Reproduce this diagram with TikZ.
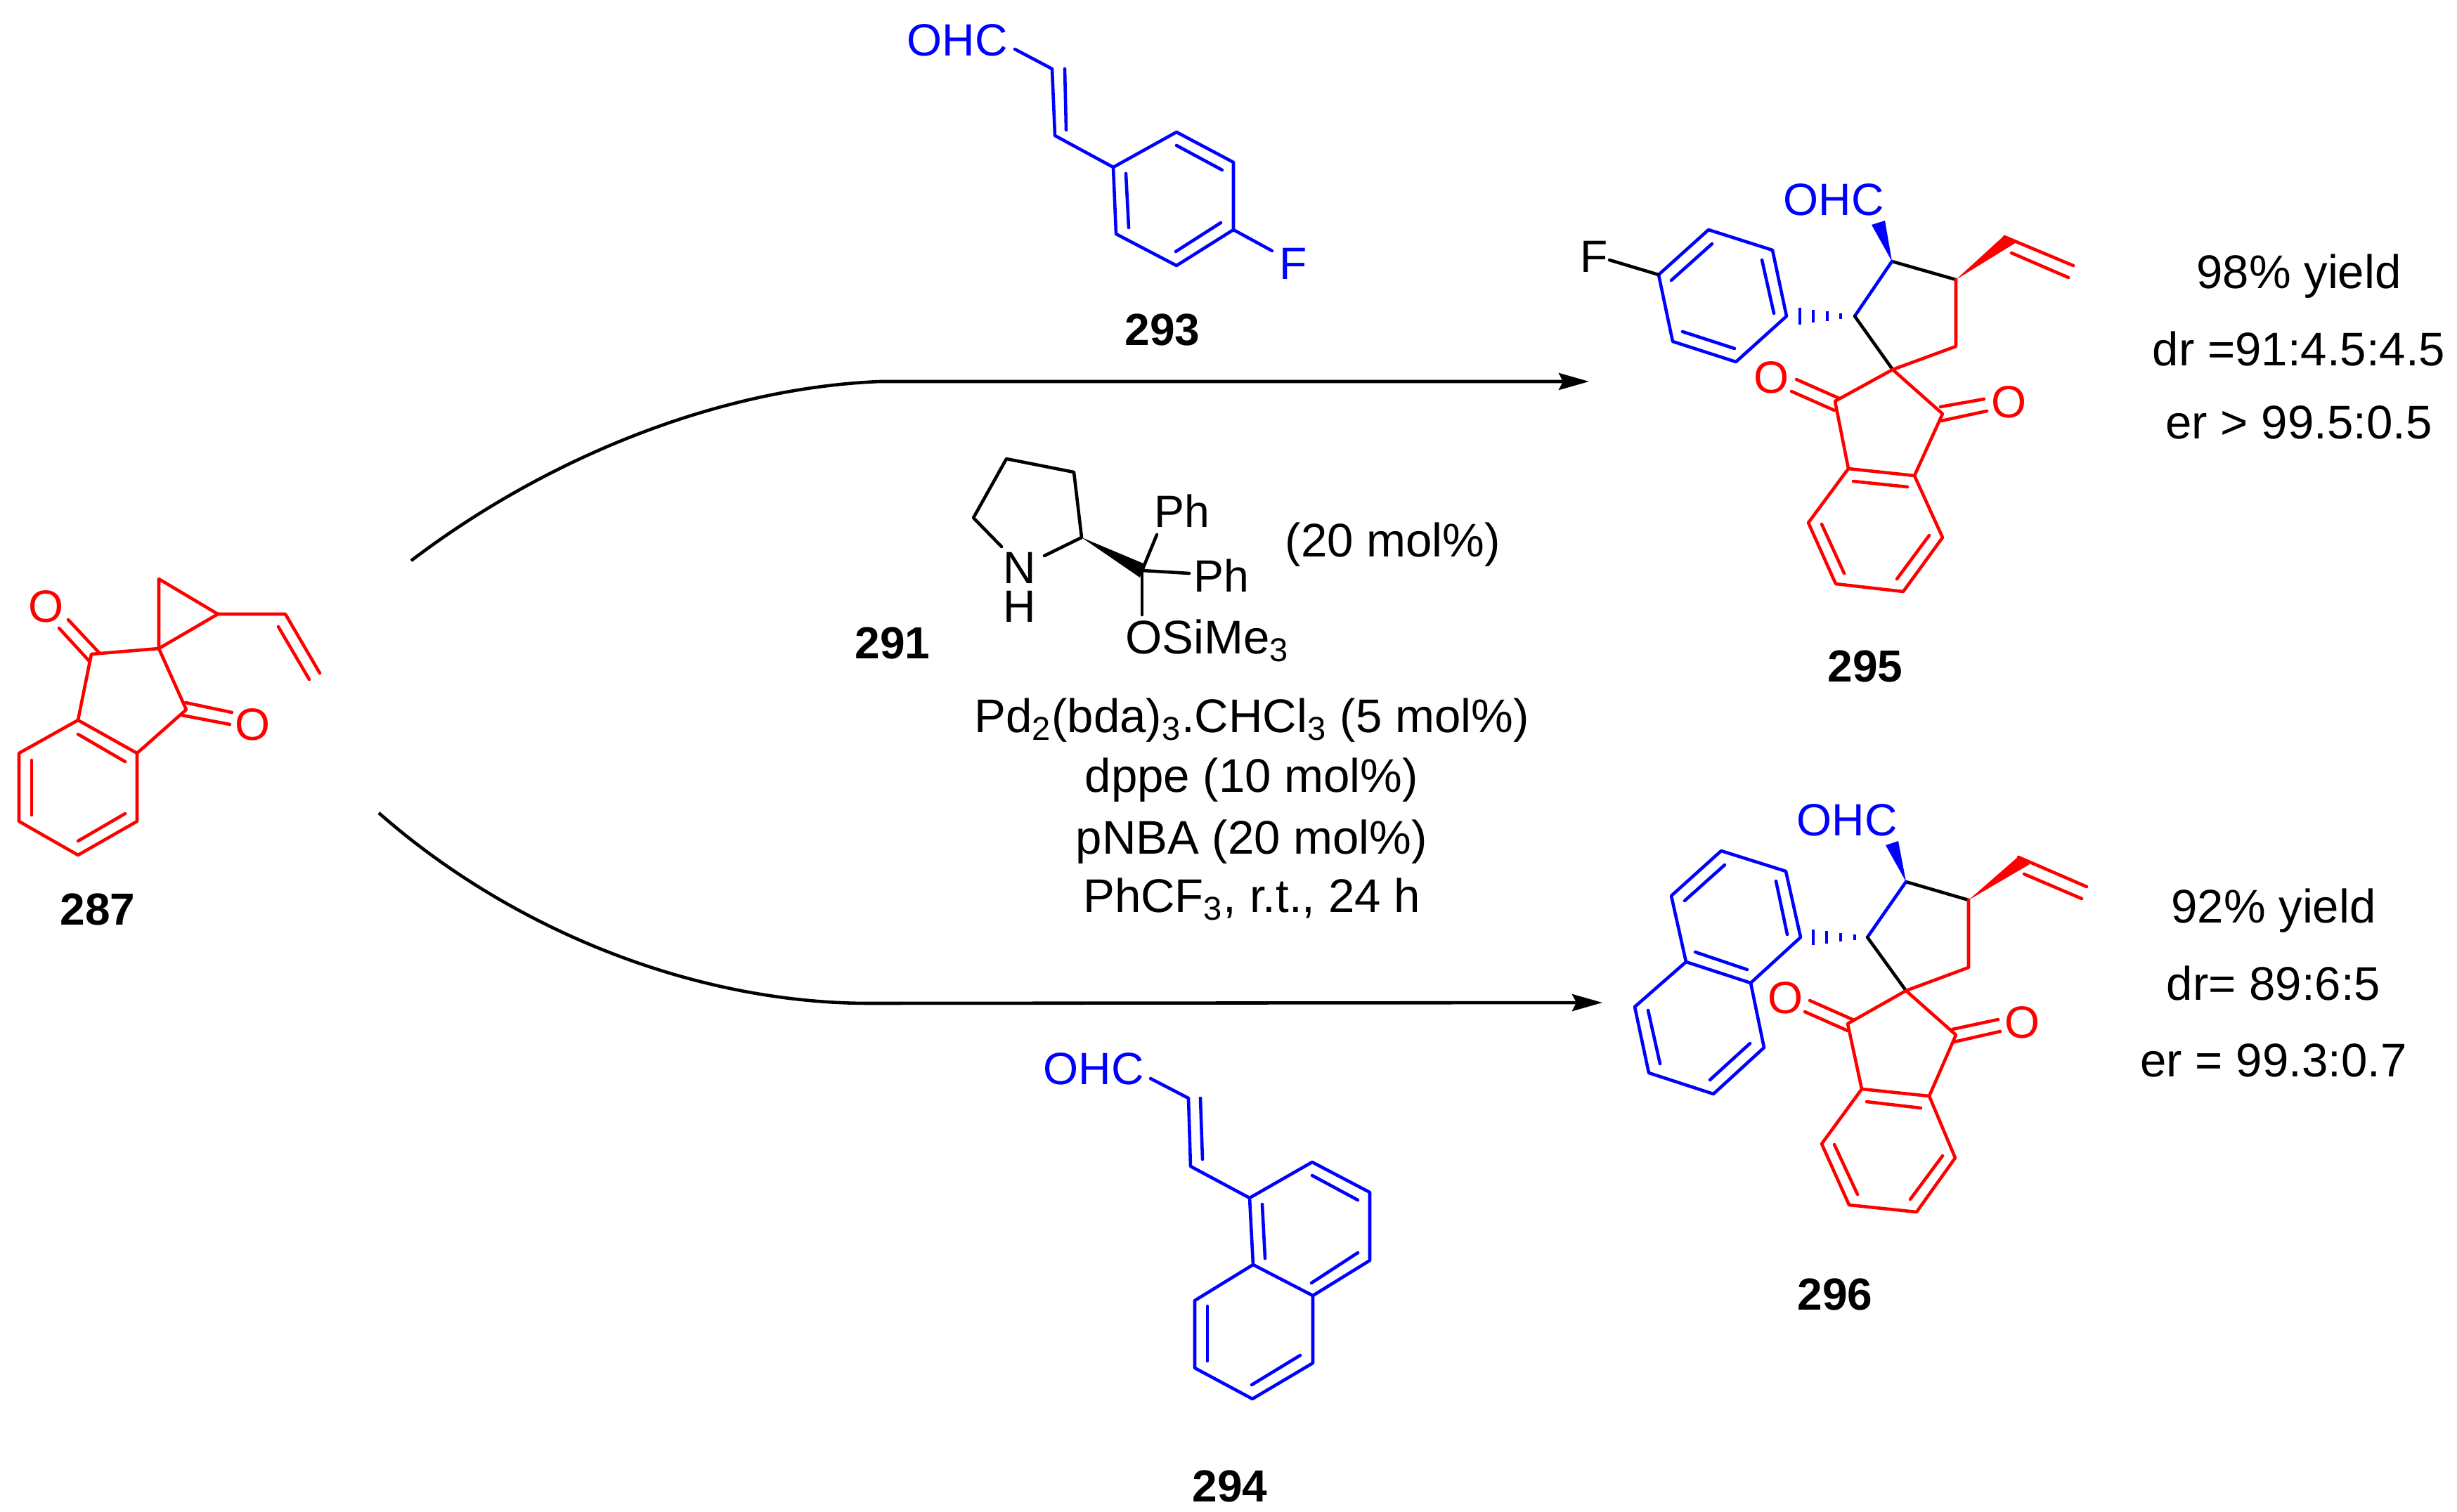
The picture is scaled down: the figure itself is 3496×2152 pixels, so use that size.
\documentclass[tikz,border=0pt]{standalone}
\usepackage{fontspec}
\setmainfont{Liberation Sans}
\usetikzlibrary{arrows.meta}
\tikzset{
	bond/.style={line width=1.3pt, line cap=round, line join=round},
	redbond/.style={bond, color=red},
	bluebond/.style={bond, color=blue},
	blackbond/.style={bond, color=black},
	chem/.style={inner sep=0pt, font=\fontsize{18.3}{22}\selectfont},
	redatom/.style={chem, color=red},
	blueatom/.style={chem, color=blue},
	cond/.style={inner sep=0pt, font=\fontsize{19.1}{23}\selectfont},
	tag/.style={inner sep=0pt, font=\fontsize{18.2}{22}\selectfont\bfseries},
	reaction/.style={line width=1.3pt, -{Stealth[length=4.3mm, width=2.4mm, inset=0.6mm]}}
}
\begin{document}
\begin{tikzpicture}[x=0.01cm, y=-0.01cm]
	%%%%% START %%%%%
	\useasboundingbox (0, 0) rectangle (3496, 2152);

	% curved arrows
	\coordinate (topstart) at (585, 798);
	\coordinate (topbend) at (1252, 543);
	\coordinate (toptip) at (2261, 543);
	\coordinate (lowstart) at (539, 1157);
	\coordinate (lowbend) at (1237, 1428);
	\coordinate (lowtip) at (2280, 1427);
	\draw[reaction] (topstart) .. controls (785, 646) and (1030, 552) .. (topbend) -- (toptip);
	\draw[reaction] (lowstart) .. controls (730, 1325) and (990, 1428) .. (lowbend) -- (lowtip);

	% 287
	\draw[redbond] (226, 824) -- (310, 874) -- (226, 923) -- cycle;
	\draw[redbond] (310, 874) -- (406, 874) -- (455, 958);
	\draw[redbond] (396, 892) -- (440, 967);
	\draw[redbond] (226, 923) -- (130, 931) -- (111, 1025);
	\draw[redbond] (226, 923) -- (265, 1010) -- (195, 1072);
	\draw[redbond] (97, 882) -- (142, 930);
	\draw[redbond] (84, 894) -- (128, 942);
	\draw[redbond] (264, 1000) -- (330, 1014);
	\draw[redbond] (259, 1018) -- (327, 1031);
	\draw[redbond] (111, 1025) -- (195, 1072) -- (195, 1169) -- (111, 1217) -- (27, 1169) -- (27, 1072) -- cycle;
	\draw[redbond] (111, 1045) -- (178, 1084);
	\draw[redbond] (45, 1082) -- (45, 1160);
	\draw[redbond] (111, 1197) -- (178, 1158);
	\node[redatom] (oxa) at (66, 863) {O};
	\node[redatom] (oxb) at (360, 1031) {O};
	\node[tag] (cpd287) at (139, 1294) {287};

	% 293
	\node[blueatom] (ohcaldf) at (1362, 57) {OHC};
	\draw[bluebond] (1444, 70) -- (1497, 98) -- (1501, 193) -- (1584, 238);
	\draw[bluebond] (1515, 98) -- (1517, 185);
	\draw[bluebond] (1584, 238) -- (1674, 188) -- (1755, 231) -- (1755, 327) -- (1674, 378) -- (1588, 333) -- cycle;
	\draw[bluebond] (1674, 207) -- (1739, 242);
	\draw[bluebond] (1602, 247) -- (1606, 324);
	\draw[bluebond] (1673, 358) -- (1737, 317);
	\draw[bluebond] (1755, 327) -- (1810, 357);
	\node[blueatom] (fluoald) at (1840, 375) {F};
	\node[tag] (cpd293) at (1654, 470) {293};

	% 294
	\node[blueatom] (ohcaldn) at (1556, 1521) {OHC};
	\draw[bluebond] (1637, 1535) -- (1691, 1563) -- (1694, 1660) -- (1778, 1705);
	\draw[bluebond] (1708, 1563) -- (1711, 1650);
	\draw[bluebond] (1778, 1705) -- (1867, 1654) -- (1949, 1697) -- (1949, 1794) -- (1868, 1844) -- (1783, 1800) -- cycle;
	\draw[bluebond] (1783, 1800) -- (1700, 1851) -- (1700, 1947) -- (1782, 1991) -- (1868, 1940) -- (1868, 1844);
	\draw[bluebond] (1867, 1673) -- (1932, 1708);
	\draw[bluebond] (1796, 1714) -- (1800, 1791);
	\draw[bluebond] (1932, 1783) -- (1866, 1826);
	\draw[bluebond] (1718, 1859) -- (1718, 1937);
	\draw[bluebond] (1781, 1971) -- (1850, 1929);
	\node[tag] (cpd294) at (1750, 2115) {294};

	% 291
	\draw[blackbond] (1425, 778) -- (1385, 737) -- (1432, 653) -- (1528, 672) -- (1539, 765) -- (1486, 791);
	\fill (1539, 765) -- (1627, 802) -- (1622, 822) -- cycle;
	\draw[blackbond] (1646, 761) -- (1625, 812) -- (1692, 816);
	\draw[blackbond] (1625, 812) -- (1625, 875);
	\node[chem] (nitro) at (1451, 808) {N};
	\node[chem] (hydro) at (1451, 863) {H};
	\node[chem] (phup) at (1682, 727) {Ph};
	\node[chem] (phright) at (1738, 819) {Ph};
	\node[cond, anchor=west] (silyl) at (1601, 912) {OSiMe\textsubscript{3}};
	\node[tag] (cpd291) at (1270, 915) {291};
	\node[cond] (loading) at (1982, 775) {(20 mol\%)};

	% conditions
	\node[cond] (metal) at (1781, 1025) {Pd\textsubscript{2}(bda)\textsubscript{3}.CHCl\textsubscript{3} (5 mol\%)};
	\node[cond] (ligand) at (1781, 1110) {dppe (10 mol\%)};
	\node[cond] (acid) at (1781, 1198) {pNBA (20 mol\%)};
	\node[cond] (solvent) at (1781, 1280) {PhCF\textsubscript{3}, r.t., 24 h};

	% 295
	\node[blueatom] (ohcprodf) at (2609, 284) {OHC};
	\fill[blue] (2692, 372) -- (2663, 320) -- (2682, 314) -- cycle;
	\draw[blackbond] (2692, 372) -- (2783, 398);
	\draw[bluebond] (2692, 372) -- (2639, 450);
	\draw[blackbond] (2639, 450) -- (2693, 526);
	\fill[red] (2783, 398) -- (2852, 335) -- (2869, 345) -- cycle;
	\draw[redbond] (2852, 337) -- (2950, 378);
	\draw[redbond] (2862, 360) -- (2943, 395);
	\draw[redbond] (2783, 398) -- (2783, 493) -- (2693, 526);
	\foreach \hx/\hh in {2561/12, 2580/9, 2600/7, 2619/4}
		\draw[bluebond, line cap=butt] (\hx, 450-\hh) -- (\hx, 450+\hh);
	\draw[bluebond] (2542, 450) -- (2522, 356) -- (2431, 327) -- (2360, 391) -- (2380, 486) -- (2470, 515) -- cycle;
	\draw[bluebond] (2507, 370) -- (2524, 446);
	\draw[bluebond] (2436, 347) -- (2378, 399);
	\draw[bluebond] (2394, 472) -- (2468, 496);
	\draw[blackbond] (2360, 391) -- (2290, 370);
	\node[chem] (fluoprod) at (2268, 365) {F};
	\draw[redbond] (2611, 571) -- (2693, 526) -- (2764, 589) -- (2724, 677) -- (2630, 667) -- cycle;
	\draw[redbond] (2617, 567) -- (2556, 540);
	\draw[redbond] (2610, 584) -- (2549, 557);
	\draw[redbond] (2761, 579) -- (2823, 568);
	\draw[redbond] (2762, 599) -- (2827, 585);
	\draw[redbond] (2630, 667) -- (2573, 744) -- (2612, 831) -- (2708, 842) -- (2764, 765) -- (2724, 677);
	\draw[redbond] (2637, 685) -- (2714, 693);
	\draw[redbond] (2592, 746) -- (2624, 816);
	\draw[redbond] (2745, 762) -- (2699, 824);
	\node[redatom] (oxc) at (2520, 537) {O};
	\node[redatom] (oxd) at (2858, 572) {O};
	\node[tag] (cpd295) at (2654, 948) {295};

	% 296
	\node[blueatom] (ohcprodn) at (2628, 1167) {OHC};
	\fill[blue] (2712, 1255) -- (2683, 1203) -- (2701, 1197) -- cycle;
	\draw[blackbond] (2712, 1255) -- (2801, 1281);
	\draw[bluebond] (2712, 1255) -- (2657, 1334);
	\draw[blackbond] (2657, 1334) -- (2712, 1410);
	\fill[red] (2801, 1281) -- (2872, 1219) -- (2888, 1230) -- cycle;
	\draw[redbond] (2872, 1220) -- (2969, 1262);
	\draw[redbond] (2880, 1244) -- (2962, 1279);
	\draw[redbond] (2801, 1281) -- (2801, 1377) -- (2712, 1410);
	\foreach \hx/\hh in {2580/11, 2599/9, 2619/6, 2639/4}
		\draw[bluebond, line cap=butt] (\hx, 1334-\hh) -- (\hx, 1334+\hh);
	\draw[bluebond] (2562, 1334) -- (2541, 1240) -- (2449, 1211) -- (2378, 1275) -- (2399, 1369) -- (2491, 1399) -- cycle;
	\draw[bluebond] (2399, 1369) -- (2326, 1433) -- (2346, 1527) -- (2438, 1557) -- (2510, 1491) -- (2491, 1399);
	\draw[bluebond] (2527, 1254) -- (2543, 1330);
	\draw[bluebond] (2454, 1231) -- (2397, 1282);
	\draw[bluebond] (2412, 1355) -- (2486, 1380);
	\draw[bluebond] (2345, 1438) -- (2362, 1514);
	\draw[bluebond] (2490, 1485) -- (2433, 1537);
	\draw[redbond] (2629, 1457) -- (2712, 1410) -- (2783, 1473) -- (2745, 1560) -- (2649, 1550) -- cycle;
	\draw[redbond] (2636, 1451) -- (2575, 1424);
	\draw[redbond] (2629, 1467) -- (2568, 1440);
	\draw[redbond] (2778, 1465) -- (2843, 1451);
	\draw[redbond] (2780, 1483) -- (2846, 1468);
	\draw[redbond] (2649, 1550) -- (2592, 1628) -- (2631, 1715) -- (2727, 1725) -- (2782, 1648) -- (2745, 1560);
	\draw[redbond] (2656, 1568) -- (2733, 1577);
	\draw[redbond] (2610, 1629) -- (2643, 1700);
	\draw[redbond] (2764, 1645) -- (2718, 1707);
	\node[redatom] (oxe) at (2540, 1420) {O};
	\node[redatom] (oxf) at (2877, 1455) {O};
	\node[tag] (cpd296) at (2611, 1842) {296};

	% results
	\node[cond] (yieldf) at (3271, 393) {98\% yield};
	\node[cond] (drf) at (3271, 496) {dr =91:4.5:4.5};
	\node[cond] (erf) at (3271, 601) {er > 99.5:0.5};
	\node[cond] (yieldn) at (3235, 1296) {92\% yield};
	\node[cond] (drn) at (3235, 1399) {dr= 89:6:5};
	\node[cond] (ern) at (3235, 1509) {er = 99.3:0.7};
	%%%%% END %%%%%
\end{tikzpicture}
\end{document}
